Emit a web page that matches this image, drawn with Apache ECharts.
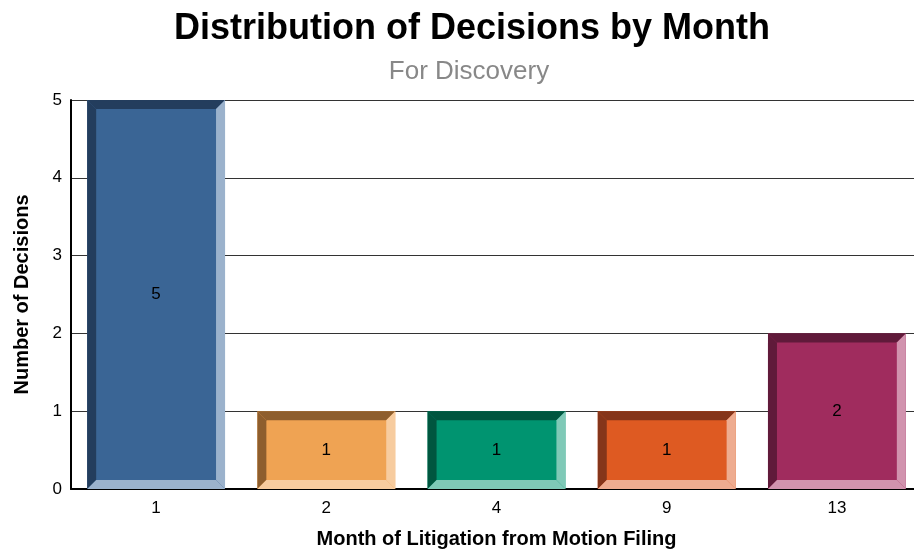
<!DOCTYPE html>
<html>
<head>
<meta charset="utf-8">
<script src="https://cdn.jsdelivr.net/npm/echarts@6/dist/echarts.min.js"></script>
<style>
html, body { margin: 0; padding: 0; background: #fff; }
#main { width: 914px; height: 550px; }
</style>
</head>
<body>
<div id="main"></div>
<script>
const months = ["1", "2", "4", "9", "13"];
const decisions = [5, 1, 1, 1, 2];
const yTicks = [0, 1, 2, 3, 4, 5];

// main / dark (top, left) / light (right, bottom)
const faceColors = ["#3a6595", "#efa353", "#009470", "#de5a22", "#a02c5e"];
const darkColors = ["#233d5d", "#8e5e2d", "#00563f", "#85351a", "#601a3a"];
const lightColors = ["#9bb2cc", "#f7cc9f", "#7fc9b7", "#eeac90", "#d193ae"];

const chart = echarts.init(document.querySelector("#main"));

function renderBevelBar(params, api) {
    const idx = api.value(0);
    const val = api.value(1);
    const top = api.coord([idx, val]);
    const base = api.coord([idx, 0]);
    const band = api.size([1, 0])[0];
    const w = band * 0.81;
    const x0 = top[0] - w / 2, x1 = top[0] + w / 2;
    const y0 = top[1], y1 = base[1];
    const b = 9;
    const i = params.dataIndex;
    return {
        type: "group",
        children: [
            { type: "rect", shape: { x: x0, y: y0, width: w, height: y1 - y0 }, style: { fill: faceColors[i] } },
            { type: "polygon", shape: { points: [[x0, y0], [x1, y0], [x1 - b, y0 + b], [x0 + b, y0 + b]] }, style: { fill: darkColors[i] } },
            { type: "polygon", shape: { points: [[x0, y0], [x0 + b, y0 + b], [x0 + b, y1 - b], [x0, y1]] }, style: { fill: darkColors[i] } },
            { type: "polygon", shape: { points: [[x1, y0], [x1, y1], [x1 - b, y1 - b], [x1 - b, y0 + b]] }, style: { fill: lightColors[i] } },
            { type: "polygon", shape: { points: [[x0, y1], [x1, y1], [x1 - b, y1 - b], [x0 + b, y1 - b]] }, style: { fill: lightColors[i] } },
            {
                type: "text",
                style: {
                    text: String(val), x: top[0], y: (y0 + y1) / 2,
                    align: "center", verticalAlign: "middle",
                    font: "17px 'Liberation Sans', Arial, sans-serif", fill: "#000",
                },
            },
        ],
    };
}

let option = {
    animation: false,
    textStyle: { fontFamily: "'Liberation Sans', Arial, sans-serif" },
    title: [
        {
            text: "Distribution of Decisions by Month",
            left: 467, top: 6, textAlign: "center",
            textStyle: { fontSize: 36, fontWeight: "bold", color: "#000" },
        },
        {
            text: "For Discovery",
            left: 464, top: 54, textAlign: "center",
            textStyle: { fontSize: 26, fontWeight: "normal", color: "#888" },
        },
    ],
    grid: { left: 71, width: 851, top: 100, height: 389, outerBoundsMode: "none" },
    xAxis: {
        type: "category",
        data: months,
        name: "Month of Litigation from Motion Filing",
        nameLocation: "middle",
        nameGap: 40,
        nameTextStyle: { fontSize: 20, fontWeight: "bold", color: "#000" },
        axisLine: { lineStyle: { color: "#000", width: 2 } },
        axisTick: { show: false },
        axisLabel: { fontSize: 17, color: "#000", margin: 11 },
    },
    yAxis: {
        type: "value",
        min: yTicks[0],
        max: yTicks[yTicks.length - 1],
        interval: 1,
        name: "Number of Decisions",
        nameLocation: "middle",
        nameGap: 39,
        nameTextStyle: { fontSize: 20, fontWeight: "bold", color: "#000" },
        axisLine: { show: true, lineStyle: { color: "#000", width: 2 } },
        axisTick: { show: false },
        axisLabel: { fontSize: 17, color: "#000", margin: 9 },
        splitLine: { lineStyle: { color: "#333", width: 1 } },
    },
    series: [
        {
            type: "custom",
            renderItem: renderBevelBar,
            data: decisions.map((v, i) => [i, v]),
            encode: { x: 0, y: 1 },
        },
    ],
};
chart.setOption(option);
</script>
</body>
</html>
